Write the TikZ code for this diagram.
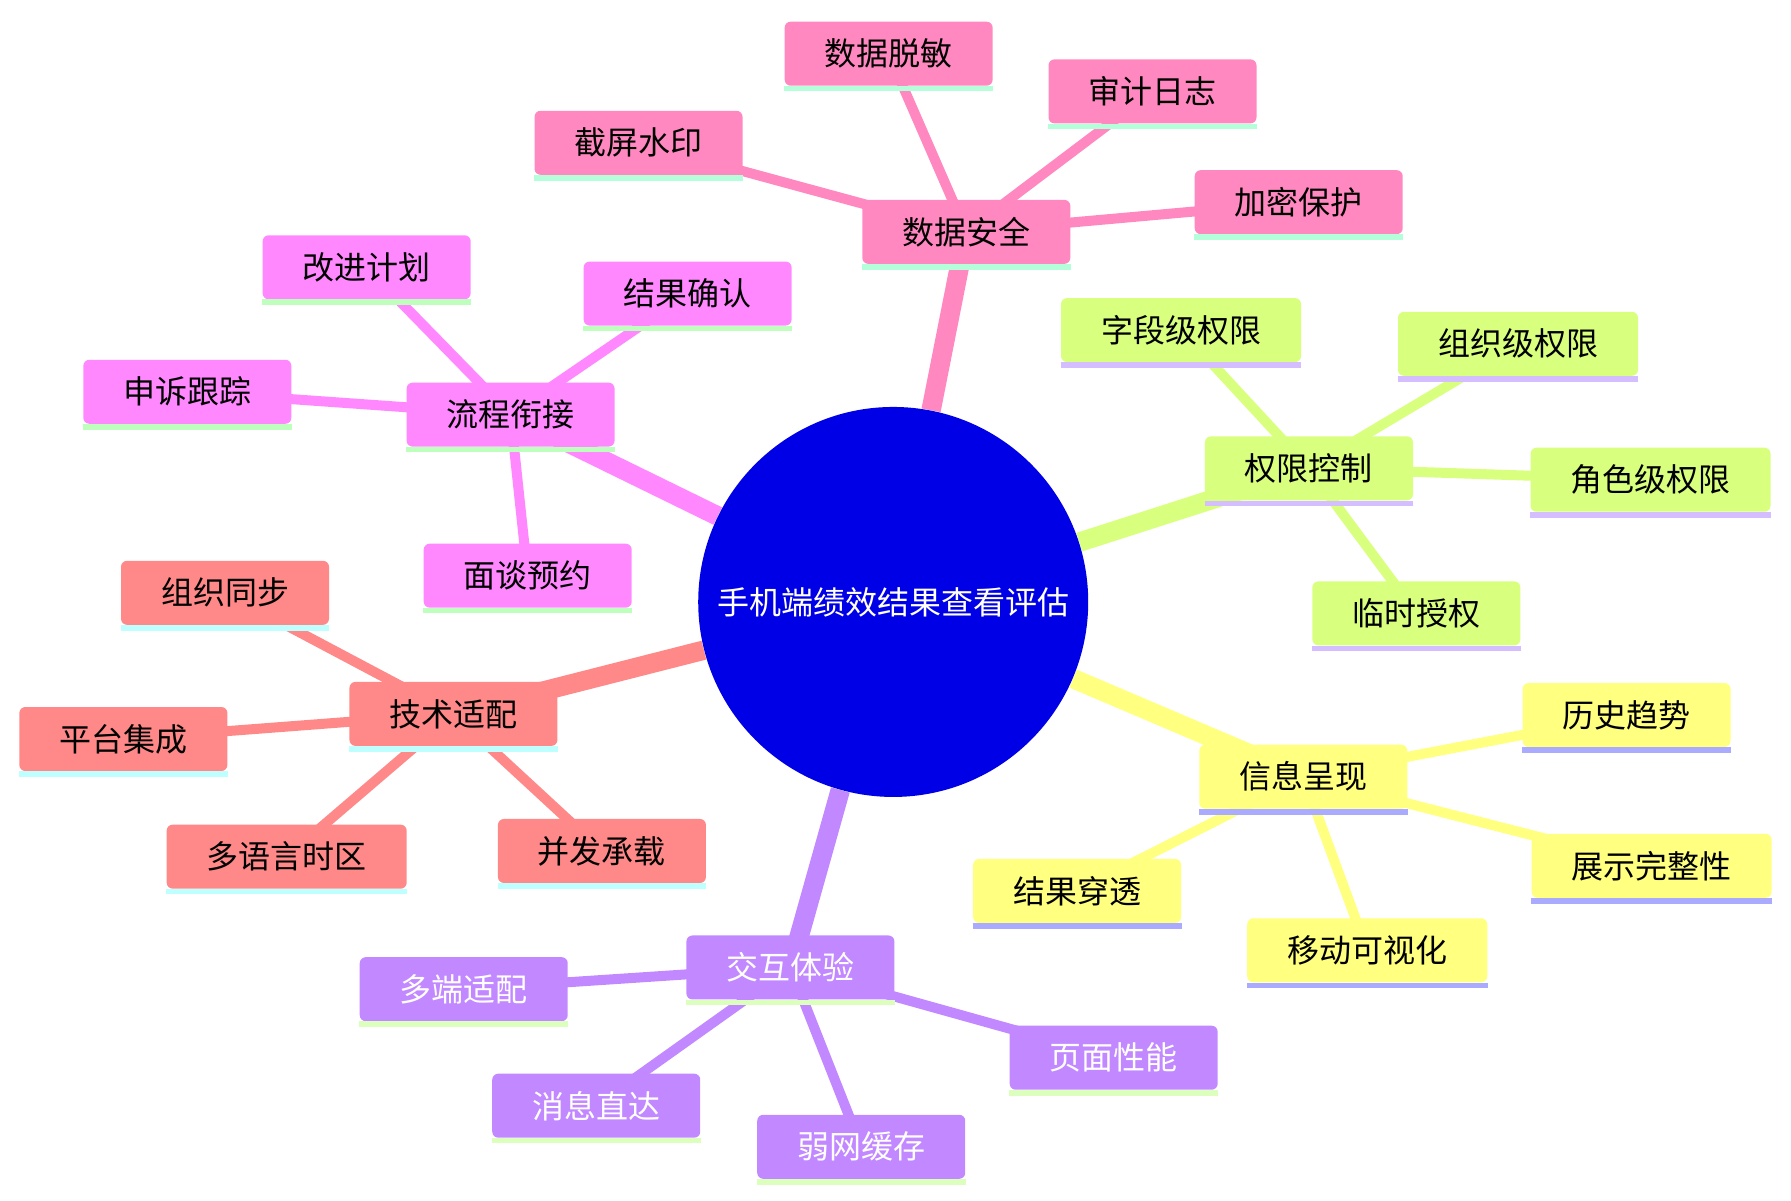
\documentclass[tikz,border=0pt]{standalone}
\usepackage{fontspec}
\newfontfamily\cjk{Noto Sans CJK SC}
\usetikzlibrary{positioning}
\pgfdeclarelayer{background}
\pgfsetlayers{background,main}

\definecolor{rootblue}{RGB}{0,0,230}
\definecolor{secpink}{RGB}{255,136,192}
\definecolor{seclime}{RGB}{217,255,127}
\definecolor{secyellow}{RGB}{255,255,128}
\definecolor{secpurple}{RGB}{193,136,255}
\definecolor{secsalmon}{RGB}{255,136,136}
\definecolor{secmagenta}{RGB}{255,136,255}
\definecolor{linemint}{RGB}{180,255,218}
\definecolor{linelavender}{RGB}{212,190,255}
\definecolor{lineblue}{RGB}{170,170,255}
\definecolor{linegreen}{RGB}{220,255,190}
\definecolor{linecyan}{RGB}{190,255,255}
\definecolor{linemoss}{RGB}{190,255,190}

\tikzset{
  root/.style={circle, fill=rootblue, text=white, minimum size=195pt, inner sep=0pt},
  topic/.style 2 args={fill=#1, rounded corners=3pt, minimum height=32pt, inner xsep=20pt,
    append after command={([yshift=-1.3pt]\tikzlastnode.south west) edge[draw=#2, line width=2.8pt, sharp corners] ([yshift=-1.3pt]\tikzlastnode.south east)}},
  mainedge/.style={line width=9.7pt},
  subedge/.style={line width=5pt},
}

\begin{document}
\begin{tikzpicture}[x=0.5711pt, y=-0.5711pt, font=\cjk\fontsize{16}{19}\selectfont]
  \useasboundingbox (0,0) rectangle (1568,1051);

  \node[root] (root) at (782,527) {手机端绩效结果查看评估};

  % data security
  \node[topic={secpink}{linemint}] (sec) at (846,203) {数据安全};
  \node[topic={secpink}{linemint}] (mask) at (778,47) {数据脱敏};
  \node[topic={secpink}{linemint}] (audit) at (1009,80) {审计日志};
  \node[topic={secpink}{linemint}] (mark) at (559,125) {截屏水印};
  \node[topic={secpink}{linemint}] (crypt) at (1137,177) {加密保护};

  % permissions
  \node[topic={seclime}{linelavender}] (perm) at (1146,410) {权限控制};
  \node[topic={seclime}{linelavender}] (field) at (1034,289) {字段级权限};
  \node[topic={seclime}{linelavender}] (org) at (1329,301) {组织级权限};
  \node[topic={seclime}{linelavender}] (role) at (1445,420) {角色级权限};
  \node[topic={seclime}{linelavender}] (temp) at (1240,537) {临时授权};

  % presentation
  \node[topic={secyellow}{lineblue}] (info) at (1141,680) {信息呈现};
  \node[topic={secyellow}{lineblue}] (trend) at (1424,626) {历史趋势};
  \node[topic={secyellow}{lineblue}] (full) at (1446,758) {展示完整性};
  \node[topic={secyellow}{lineblue}] (viz) at (1197,832) {移动可视化};
  \node[topic={secyellow}{lineblue}] (drill) at (943,780) {结果穿透};

  % interaction
  \node[topic={secpurple}{linegreen}, text=white] (ux) at (692,847) {交互体验};
  \node[topic={secpurple}{linegreen}, text=white] (multi) at (406,866) {多端适配};
  \node[topic={secpurple}{linegreen}, text=white] (msg) at (522,968) {消息直达};
  \node[topic={secpurple}{linegreen}, text=white] (cache) at (754,1004) {弱网缓存};
  \node[topic={secpurple}{linegreen}, text=white] (perf) at (975,926) {页面性能};

  % technology
  \node[topic={secsalmon}{linecyan}] (tech) at (397,625) {技术适配};
  \node[topic={secsalmon}{linecyan}] (sync) at (197,519) {组织同步};
  \node[topic={secsalmon}{linecyan}] (plat) at (108,647) {平台集成};
  \node[topic={secsalmon}{linecyan}] (lang) at (251,750) {多语言时区};
  \node[topic={secsalmon}{linecyan}] (load) at (527,745) {并发承载};

  % process
  \node[topic={secmagenta}{linemoss}] (flow) at (447,363) {流程衔接};
  \node[topic={secmagenta}{linemoss}] (plan) at (321,234) {改进计划};
  \node[topic={secmagenta}{linemoss}] (confirm) at (602,257) {结果确认};
  \node[topic={secmagenta}{linemoss}] (appeal) at (164,343) {申诉跟踪};
  \node[topic={secmagenta}{linemoss}] (meet) at (462,504) {面谈预约};

  \begin{pgfonlayer}{background}
    \draw[mainedge, secpink] (root) -- (sec.center);
    \draw[mainedge, seclime] (root) -- (perm.center);
    \draw[mainedge, secyellow] (root) -- (info.center);
    \draw[mainedge, secpurple] (root) -- (ux.center);
    \draw[mainedge, secsalmon] (root) -- (tech.center);
    \draw[mainedge, secmagenta] (root) -- (flow.center);
    \foreach \a in {mask,audit,mark,crypt} \draw[subedge, secpink] (sec.center) -- (\a.center);
    \foreach \a in {field,org,role,temp} \draw[subedge, seclime] (perm.center) -- (\a.center);
    \foreach \a in {trend,full,viz,drill} \draw[subedge, secyellow] (info.center) -- (\a.center);
    \foreach \a in {multi,msg,cache,perf} \draw[subedge, secpurple] (ux.center) -- (\a.center);
    \foreach \a in {sync,plat,lang,load} \draw[subedge, secsalmon] (tech.center) -- (\a.center);
    \foreach \a in {plan,confirm,appeal,meet} \draw[subedge, secmagenta] (flow.center) -- (\a.center);
  \end{pgfonlayer}
\end{tikzpicture}
\end{document}
